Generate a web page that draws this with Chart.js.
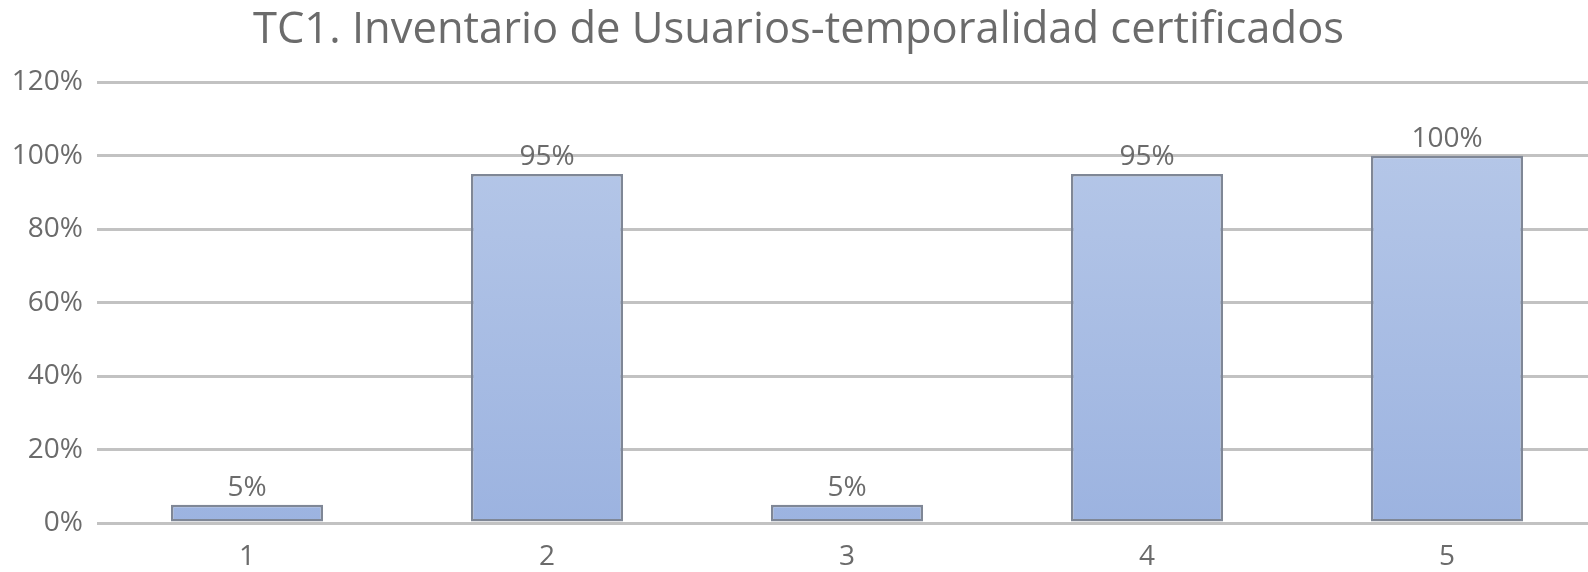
<!DOCTYPE html>
<html>
<head>
<meta charset="utf-8">
<script src="https://cdn.jsdelivr.net/npm/chart.js@4/dist/chart.umd.min.js"></script>
<style>
  html, body { margin: 0; padding: 0; background: #fff; overflow: hidden; }
  #wrap { position: relative; width: 1600px; height: 572px; }
</style>
</head>
<body>
<div id="wrap"><canvas id="tcChart"></canvas></div>
<script>
  // TC1 chart
  var categorias = ['1', '2', '3', '4', '5'];
  var porcentajes = [5, 95, 5, 95, 100];
  var etiquetas = ['5%', '95%', '5%', '95%', '100%'];
  var ticksY = [0, 20, 40, 60, 80, 100, 120];
  var titulo = 'TC1. Inventario de Usuarios-temporalidad certificados';

  var gris = '#6b6b6b';
  var fuente = "'Open Sans', 'Noto Sans', sans-serif";

  // draws the value above each bar
  var etiquetasPlugin = {
    id: 'etiquetas',
    afterDatasetsDraw: function (chart) {
      var ctx = chart.ctx;
      var meta = chart.getDatasetMeta(0);
      ctx.save();
      ctx.font = '500 28px ' + fuente;
      ctx.fillStyle = gris;
      ctx.textAlign = 'center';
      ctx.textBaseline = 'middle';
      meta.data.forEach(function (bar, i) {
        ctx.fillText(etiquetas[i], bar.x, bar.y - 17);
      });
      ctx.restore();
    }
  };

  function relleno(context) {
    var area = context.chart.chartArea;
    if (!area) {
      return '#a9bde5';
    }
    var g = context.chart.ctx.createLinearGradient(0, area.top, 0, area.bottom);
    g.addColorStop(0, '#b9cae9');
    g.addColorStop(1, '#9cb3e0');
    return g;
  }

  new Chart(document.getElementById('tcChart'), {
    type: 'bar',
    data: {
      labels: categorias,
      datasets: [{
        data: porcentajes,
        backgroundColor: relleno,
        borderColor: '#7f8796',
        borderWidth: 2.5,
        borderSkipped: false,
        categoryPercentage: 1,
        barPercentage: 0.507
      }]
    },
    plugins: [etiquetasPlugin],
    options: {
      responsive: true,
      maintainAspectRatio: false,
      animation: false,
      events: [],
      layout: { padding: { top: 0, right: 3, bottom: 0, left: 0 } },
      plugins: {
        legend: { display: false },
        tooltip: { enabled: false },
        title: {
          display: true,
          text: titulo,
          color: gris,
          font: { family: fuente, size: 43.5, weight: 500 },
          padding: { top: 5, bottom: 25 }
        }
      },
      scales: {
        x: {
          offset: true,
          grid: { display: false, drawTicks: false },
          border: { display: false },
          ticks: {
            color: gris,
            padding: 17,
            font: { family: fuente, size: 28, weight: 500 }
          },
          afterFit: function (scale) { scale.height = 49; }
        },
        y: {
          min: 0,
          max: 120,
          afterBuildTicks: function (scale) {
            scale.ticks = ticksY.map(function (v) { return { value: v }; });
          },
          grid: { color: '#c2c2c2', lineWidth: 3, drawTicks: false },
          border: { display: false },
          ticks: {
            color: gris,
            padding: 14,
            font: { family: fuente, size: 28, weight: 500 },
            callback: function (v) { return v + '%'; }
          },
          afterFit: function (scale) { scale.width = 97; }
        }
      }
    }
  });
</script>
</body>
</html>
